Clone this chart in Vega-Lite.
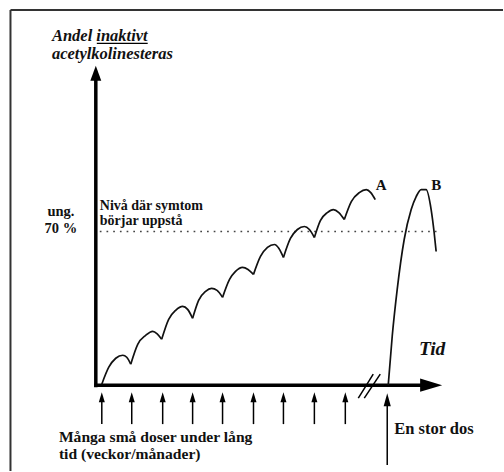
{
  "$schema": "https://vega.github.io/schema/vega-lite/v6.json",
  "width": 504,
  "height": 472,
  "autosize": {"type": "fit", "contains": "padding"},
  "padding": 0,
  "background": "#ffffff",
  "config": {"view": {"stroke": null}},
  "datasets": {
    "frame": [
      {"x": 10.5, "y": 10, "x2": 10.5, "y2": 472},
      {"x": 10.5, "y": 10, "x2": 504, "y2": 10}
    ],
    "axes": [
      {"x": 96, "y": 388, "x2": 96, "y2": 78},
      {"x": 94.5, "y": 386, "x2": 424, "y2": 386}
    ],
    "breaks": [
      {"x": 359, "y": 399, "x2": 374, "y2": 375},
      {"x": 365, "y": 399, "x2": 381, "y2": 375}
    ],
    "threshold": [{"x": 100, "y": 232, "x2": 442, "y2": 232}],
    "underline": [{"x": 97, "y": 43.5, "x2": 148, "y2": 43.5}],
    "doses": [
      {"x": 102, "y": 398, "y2": 425},
      {"x": 132, "y": 398, "y2": 425},
      {"x": 163, "y": 398, "y2": 425},
      {"x": 193, "y": 398, "y2": 425},
      {"x": 223, "y": 398, "y2": 425},
      {"x": 254, "y": 398, "y2": 425},
      {"x": 284, "y": 398, "y2": 425},
      {"x": 315, "y": 398, "y2": 425},
      {"x": 346, "y": 398, "y2": 425}
    ],
    "bigdose": [{"x": 388, "y": 400.5, "y2": 466}],
    "yhead": [{"x": 96, "y": 73.5}],
    "xhead": [{"x": 432, "y": 386}],
    "curveA": [
      {"c": 1, "x": 102, "y": 385}, {"c": 1, "x": 109, "y": 368}, {"c": 1, "x": 116, "y": 359}, {"c": 1, "x": 123, "y": 356}, {"c": 1, "x": 127, "y": 358}, {"c": 1, "x": 131, "y": 365},
      {"c": 2, "x": 131, "y": 365}, {"c": 2, "x": 138, "y": 345}, {"c": 2, "x": 146, "y": 336}, {"c": 2, "x": 153, "y": 332}, {"c": 2, "x": 157.5, "y": 334.5}, {"c": 2, "x": 162, "y": 340},
      {"c": 3, "x": 162, "y": 340}, {"c": 3, "x": 169, "y": 320}, {"c": 3, "x": 176, "y": 311}, {"c": 3, "x": 183, "y": 307}, {"c": 3, "x": 188, "y": 310}, {"c": 3, "x": 193, "y": 319},
      {"c": 4, "x": 193, "y": 319}, {"c": 4, "x": 199, "y": 301}, {"c": 4, "x": 206, "y": 292}, {"c": 4, "x": 212, "y": 289}, {"c": 4, "x": 217.5, "y": 291}, {"c": 4, "x": 223, "y": 298},
      {"c": 5, "x": 223, "y": 298}, {"c": 5, "x": 230, "y": 280}, {"c": 5, "x": 236, "y": 272}, {"c": 5, "x": 243, "y": 268}, {"c": 5, "x": 248.5, "y": 270}, {"c": 5, "x": 254, "y": 275},
      {"c": 6, "x": 254, "y": 275}, {"c": 6, "x": 261, "y": 257}, {"c": 6, "x": 268, "y": 248}, {"c": 6, "x": 275, "y": 245}, {"c": 6, "x": 279.5, "y": 249}, {"c": 6, "x": 284, "y": 258},
      {"c": 7, "x": 284, "y": 258}, {"c": 7, "x": 291, "y": 239}, {"c": 7, "x": 298, "y": 230}, {"c": 7, "x": 305, "y": 227}, {"c": 7, "x": 310, "y": 230}, {"c": 7, "x": 315, "y": 238},
      {"c": 8, "x": 315, "y": 238}, {"c": 8, "x": 321, "y": 221}, {"c": 8, "x": 328, "y": 213}, {"c": 8, "x": 334, "y": 210}, {"c": 8, "x": 339.5, "y": 213}, {"c": 8, "x": 345, "y": 220},
      {"c": 9, "x": 345, "y": 220}, {"c": 9, "x": 352, "y": 202}, {"c": 9, "x": 360, "y": 193}, {"c": 9, "x": 367, "y": 190}, {"c": 9, "x": 371.5, "y": 193}, {"c": 9, "x": 376, "y": 200}
    ],
    "curveB": [
      {"x": 389, "y": 386}, {"x": 393, "y": 337}, {"x": 398, "y": 290}, {"x": 405, "y": 240},
      {"x": 412, "y": 210}, {"x": 417, "y": 197}, {"x": 422, "y": 190}, {"x": 427, "y": 190},
      {"x": 432, "y": 210}, {"x": 435, "y": 233}, {"x": 437, "y": 252}
    ],
    "titleText": [
      {"x": 52, "y": 41, "t": "Andel inaktivt"},
      {"x": 52, "y": 59, "t": "acetylkolinesteras"}
    ],
    "pctText": [
      {"x": 61, "y": 216, "t": "ung."},
      {"x": 61, "y": 233, "t": "70 %"}
    ],
    "levelText": [
      {"x": 100, "y": 210.5, "t": "Nivå där symtom"},
      {"x": 100, "y": 225.5, "t": "börjar uppstå"}
    ],
    "doseText": [
      {"x": 59, "y": 443, "t": "Många små doser under lång"},
      {"x": 59, "y": 459.5, "t": "tid (veckor/månader)"}
    ],
    "bigText": [{"x": 395, "y": 435, "t": "En stor dos"}],
    "abText": [
      {"x": 382, "y": 190, "t": "A"},
      {"x": 437, "y": 190, "t": "B"}
    ],
    "tidText": [{"x": 433, "y": 356, "t": "Tid"}]
  },
  "encoding": {
    "x": {"field": "x", "type": "quantitative", "scale": {"domain": [0, 504], "nice": false, "zero": false}, "axis": null},
    "y": {"field": "y", "type": "quantitative", "scale": {"domain": [0, 472], "nice": false, "zero": false, "reverse": true}, "axis": null}
  },
  "layer": [
    {"data": {"name": "frame"}, "mark": {"type": "rule", "color": "#333333", "strokeWidth": 2},
     "encoding": {"x2": {"field": "x2"}, "y2": {"field": "y2"}}},
    {"data": {"name": "threshold"}, "mark": {"type": "rule", "color": "#444444", "strokeWidth": 1.7, "strokeDash": [1.7, 5]},
     "encoding": {"x2": {"field": "x2"}, "y2": {"field": "y2"}}},
    {"data": {"name": "axes"}, "mark": {"type": "rule", "color": "#000000", "strokeWidth": 3.5},
     "encoding": {"x2": {"field": "x2"}, "y2": {"field": "y2"}}},
    {"data": {"name": "breaks"}, "mark": {"type": "rule", "color": "#000000", "strokeWidth": 1.5},
     "encoding": {"x2": {"field": "x2"}, "y2": {"field": "y2"}}},
    {"data": {"name": "underline"}, "mark": {"type": "rule", "color": "#000000", "strokeWidth": 1.2},
     "encoding": {"x2": {"field": "x2"}, "y2": {"field": "y2"}}},
    {"data": {"name": "doses"}, "mark": {"type": "rule", "color": "#000000", "strokeWidth": 1.5},
     "encoding": {"y2": {"field": "y2"}}},
    {"data": {"name": "bigdose"}, "mark": {"type": "rule", "color": "#000000", "strokeWidth": 1.5},
     "encoding": {"y2": {"field": "y2"}}},
    {"data": {"name": "doses"}, "mark": {"type": "point", "filled": true, "color": "#000000", "opacity": 1, "size": 100, "shape": "M0,-1L0.6,1L-0.6,1Z"},
     "encoding": {}},
    {"data": {"name": "bigdose"}, "mark": {"type": "point", "filled": true, "color": "#000000", "opacity": 1, "size": 169, "shape": "M0,-1L0.55,1L-0.55,1Z"},
     "encoding": {}},
    {"data": {"name": "yhead"}, "mark": {"type": "point", "filled": true, "color": "#000000", "opacity": 1, "size": 225, "shape": "M0,-1L0.73,1L-0.73,1Z"},
     "encoding": {}},
    {"data": {"name": "xhead"}, "mark": {"type": "point", "filled": true, "color": "#000000", "opacity": 1, "size": 484, "shape": "M1,0L-1,-0.6L-1,0.6Z"},
     "encoding": {}},
    {"data": {"name": "curveA"}, "mark": {"type": "line", "color": "#111111", "strokeWidth": 1.7, "interpolate": "monotone"},
     "encoding": {"detail": {"field": "c", "type": "nominal"}}},
    {"data": {"name": "curveB"}, "mark": {"type": "line", "color": "#111111", "strokeWidth": 1.7, "interpolate": "monotone"},
     "encoding": {}},
    {"data": {"name": "titleText"}, "mark": {"type": "text", "font": "Liberation Serif", "fontSize": 16.5, "fontWeight": "bold", "fontStyle": "italic", "align": "left", "baseline": "alphabetic", "color": "#111111"},
     "encoding": {"text": {"field": "t"}}},
    {"data": {"name": "pctText"}, "mark": {"type": "text", "font": "Liberation Serif", "fontSize": 14.5, "fontWeight": "bold", "align": "center", "baseline": "alphabetic", "color": "#111111"},
     "encoding": {"text": {"field": "t"}}},
    {"data": {"name": "levelText"}, "mark": {"type": "text", "font": "Liberation Serif", "fontSize": 14, "fontWeight": "bold", "align": "left", "baseline": "alphabetic", "color": "#111111"},
     "encoding": {"text": {"field": "t"}}},
    {"data": {"name": "doseText"}, "mark": {"type": "text", "font": "Liberation Serif", "fontSize": 15.6, "fontWeight": "bold", "align": "left", "baseline": "alphabetic", "color": "#111111"},
     "encoding": {"text": {"field": "t"}}},
    {"data": {"name": "bigText"}, "mark": {"type": "text", "font": "Liberation Serif", "fontSize": 16.5, "fontWeight": "bold", "align": "left", "baseline": "alphabetic", "color": "#111111"},
     "encoding": {"text": {"field": "t"}}},
    {"data": {"name": "abText"}, "mark": {"type": "text", "font": "Liberation Serif", "fontSize": 15, "fontWeight": "bold", "align": "center", "baseline": "alphabetic", "color": "#111111"},
     "encoding": {"text": {"field": "t"}}},
    {"data": {"name": "tidText"}, "mark": {"type": "text", "font": "Liberation Serif", "fontSize": 19.5, "fontWeight": "bold", "fontStyle": "italic", "align": "center", "baseline": "alphabetic", "color": "#111111"},
     "encoding": {"text": {"field": "t"}}}
  ]
}
